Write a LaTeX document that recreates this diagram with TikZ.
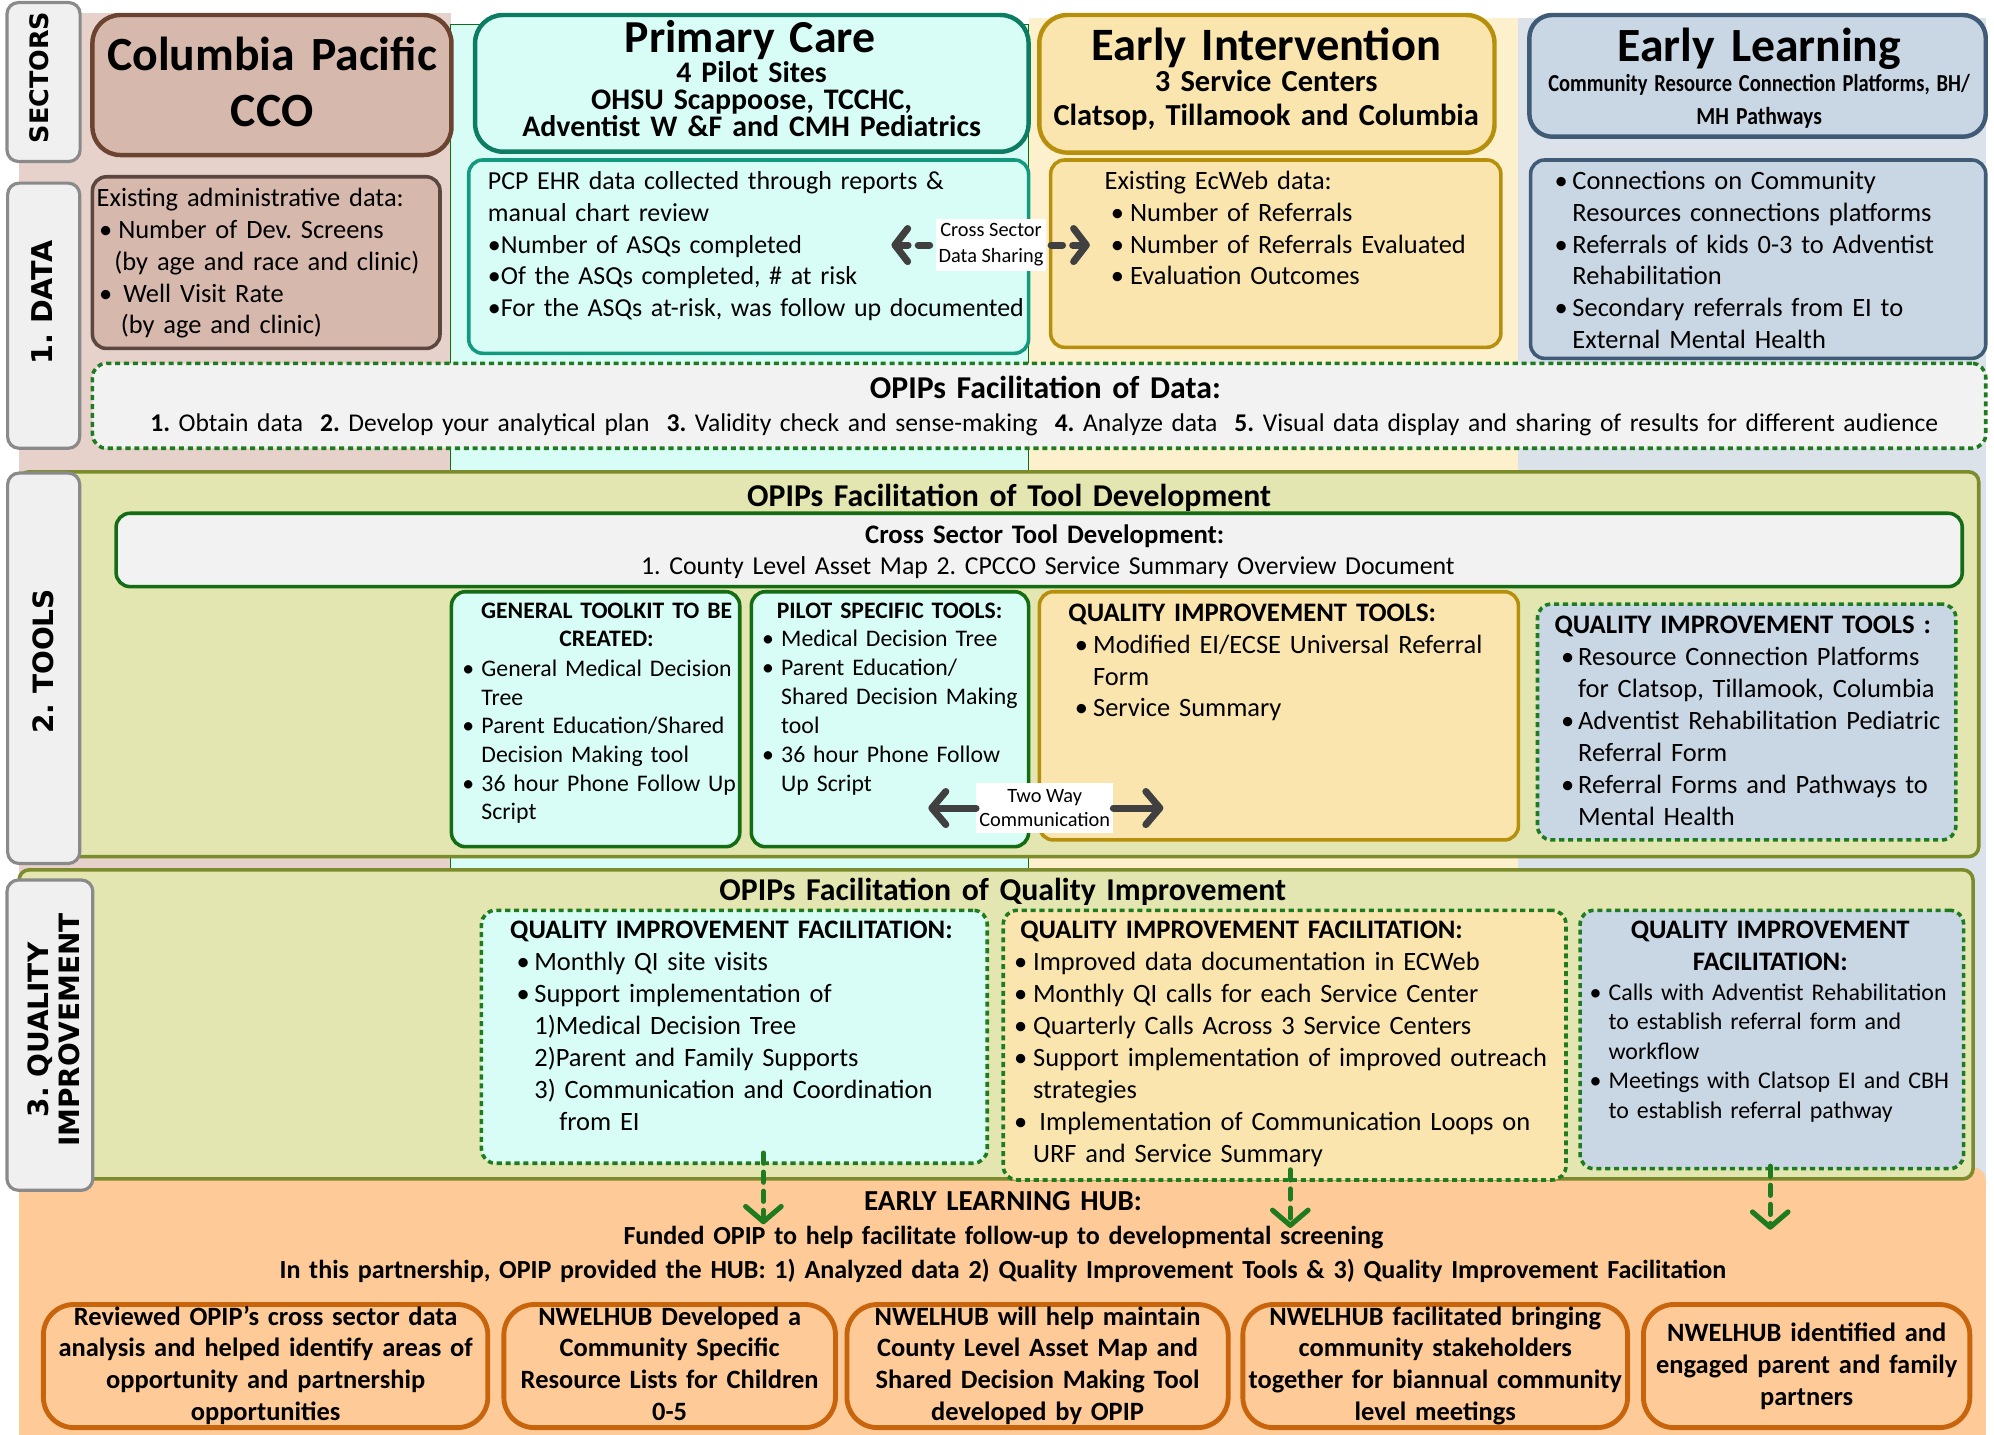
\documentclass[tikz,border=0pt]{standalone}
\usepackage{fontspec}
\usepackage{graphicx}
\setmainfont{Carlito}
\newfontfamily\tabfont{DejaVu Sans}
\usetikzlibrary{arrows.meta}
\definecolor{brownbg}{HTML}{E6D2CB}
\definecolor{brownbox}{HTML}{D7B8AC}
\definecolor{brownline}{HTML}{6B4331}
\definecolor{browndata}{HTML}{5B4640}
\definecolor{cyanbg}{HTML}{D8FDF7}
\definecolor{tealline}{HTML}{0C7C62}
\definecolor{tealdata}{HTML}{139A7E}
\definecolor{yelbg}{HTML}{FDF0CD}
\definecolor{yelbox}{HTML}{FBE5AE}
\definecolor{goldline}{HTML}{B68F0C}
\definecolor{bluebg}{HTML}{DBE2EA}
\definecolor{bluebox}{HTML}{C9D6E3}
\definecolor{blueline}{HTML}{3F5B76}
\definecolor{olivefill}{HTML}{E3E6B0}
\definecolor{oliveline}{HTML}{7C8B2C}
\definecolor{dkgreen}{HTML}{146C14}
\definecolor{dashgreen}{HTML}{1F7B1F}
\definecolor{boxgray}{HTML}{F2F2F2}
\definecolor{hubfill}{HTML}{FDCA98}
\definecolor{hubline}{HTML}{C8640B}
\definecolor{tabfill}{HTML}{F0F0F0}
\definecolor{tabline}{HTML}{8A8A8A}
\definecolor{arrgray}{HTML}{404040}
\newcommand{\myfs}[2]{\fontsize{#1}{#2}\selectfont}
\newcommand{\myb}[1]{\makebox[#1][l]{•}}
\tikzset{
  every node/.style={inner sep=0pt, outer sep=0pt},
  boxn/.style={rectangle, anchor=north west},
  hdrbox/.style={boxn, line width=3.5pt, rounded corners=22pt},
  databox/.style={boxn, line width=2.8pt, rounded corners=11pt},
  dashbox/.style={boxn, draw=dashgreen, line width=2.8pt, dash pattern=on 4pt off 3pt, rounded corners=11pt},
  sectbox/.style={boxn, draw=oliveline, fill=olivefill, line width=2.8pt, rounded corners=8pt},
  hubbox/.style={boxn, draw=hubline, fill=hubfill, line width=3.8pt, rounded corners=24pt},
  tabbox/.style={boxn, draw=tabline, fill=tabfill, line width=2.5pt, rounded corners=9pt},
  lt/.style={anchor=base west, align=left, text width=520pt},
  ct/.style={anchor=base, align=center},
  lbl/.style={fill=white, align=center, font=\myfs{16}{20.4}},
  greyarr/.style={draw=arrgray, line width=5.5pt, line cap=round, -{Straight Barb[length=11pt,width=26pt,round]}},
  sharearr/.style={draw=arrgray, line width=5.5pt, line cap=round, dash pattern=on 9pt off 8pt, -{Straight Barb[length=10pt,width=26pt,round]}},
  greenarr/.style={draw=dashgreen, line width=4pt, line cap=round, dash pattern=on 8pt off 7pt, -{Straight Barb[length=12pt,width=28pt,round]}},
}
\begin{document}
\lineskiplimit=-100pt
\frenchspacing
\begin{tikzpicture}[x=1pt,y=-1pt]
\useasboundingbox (0,0) rectangle (1568,1128);
% column backgrounds
\fill[brownbg] (15,10.5) rectangle (354.6,935);
\filldraw[fill=cyanbg, draw=dkgreen, line width=0.8pt] (354.6,19) rectangle (808.8,935);
\fill[yelbg] (808.8,14.4) rectangle (1194,935);
\fill[bluebg] (1194,14.4) rectangle (1562,935);

% hub background
\node[boxn, fill=hubfill, rounded corners=10pt, minimum width=1546.5pt, minimum height=222pt] (hub) at (15,918) {};

% headers
\node[hdrbox, draw=brownline, fill=brownbox, minimum width=282.3pt, minimum height=110.1pt] (colH) at (72.7,11.8) {};
\node[ct, text width=280pt, font=\bfseries\myfs{37.5}{44}] (colHt) at (214,55.6) {Columbia Pacific\\CCO};

\node[hdrbox, draw=tealline, fill=cyanbg, minimum width=435.2pt, minimum height=107.5pt] (pcH) at (373.6,11.8) {};
\node[ct, text width=430pt, font=\bfseries\myfs{36}{44}] (pcHt) at (590,41) {Primary Care};
\node[ct, text width=430pt, font=\bfseries\myfs{23.5}{21}] (pcHs) at (591,65) {4 Pilot Sites\\OHSU Scappoose, TCCHC,\\Adventist W \&F and CMH Pediatrics};

\node[hdrbox, draw=goldline, fill=yelbox, minimum width=357.9pt, minimum height=108.2pt] (eiH) at (817.3,11.8) {};
\node[ct, text width=350pt, font=\bfseries\myfs{36.5}{44}] (eiHt) at (995.7,47.5) {Early Intervention};
\node[ct, text width=350pt, font=\bfseries\myfs{24}{27}] (eiHs) at (995.7,72) {3 Service Centers\\Clatsop, Tillamook and Columbia};

\node[hdrbox, draw=blueline, fill=bluebox, rounded corners=18pt, minimum width=358.9pt, minimum height=95.7pt] (elH) at (1202.6,11.8) {};
\node[ct, text width=350pt, font=\bfseries\myfs{37.5}{44}] (elHt) at (1383.5,48.6) {Early Learning};
\node[ct, text width=350pt, font=\bfseries\myfs{20}{26}] (elHs) at (1383.3,72) {\resizebox{331.5pt}{13.5pt}{Community Resource Connection Platforms, BH/}\\\resizebox{98.7pt}{13.5pt}{MH Pathways}};

% data row
\node[databox, draw=browndata, fill=brownbox, minimum width=273.3pt, minimum height=135pt] (ccoD) at (72.7,139) {};
\node[lt, font=\myfs{20.8}{25}] (ccoDt) at (76,162.5) {Existing administrative data:\\\hspace*{2pt}\myb{15pt}Number of Dev. Screens\\\hspace*{14pt}(by age and race and clinic)\\\hspace*{2pt}\myb{19pt}Well Visit Rate\\\hspace*{19pt}(by age and clinic)};

\node[databox, draw=tealdata, fill=cyanbg, minimum width=440.2pt, minimum height=152pt] (pcpD) at (368.6,125.8) {};
\node[lt, font=\myfs{20.4}{24.9}] (pcpDt) at (383.7,149.4) {PCP EHR data collected through reports \&\\manual chart review\\•Number of ASQs completed\\•Of the ASQs completed, \# at risk\\•For the ASQs at-risk, was follow up documented};

\node[databox, draw=goldline, fill=yelbox, minimum width=354pt, minimum height=147.3pt] (eiD) at (826.2,125.8) {};
\node[lt, font=\myfs{20.8}{24.9}] (eiDt) at (868.6,149.4) {Existing EcWeb data:\\\hspace*{5pt}\myb{15pt}Number of Referrals\\\hspace*{5pt}\myb{15pt}Number of Referrals Evaluated\\\hspace*{5pt}\myb{15pt}Evaluation Outcomes};

\node[databox, draw=blueline, fill=bluebox, minimum width=357.9pt, minimum height=156pt] (elD) at (1203.6,125.8) {};
\node[lt, font=\myfs{20.8}{24.9}] (elDt) at (1222.5,149.4) {\myb{14pt}Connections on Community\\\hspace*{14pt}Resources connections platforms\\\myb{14pt}Referrals of kids 0-3 to Adventist\\\hspace*{14pt}Rehabilitation\\\myb{14pt}Secondary referrals from EI to\\\hspace*{14pt}External Mental Health};

% cross sector data sharing
\node[lbl, minimum width=86.5pt, minimum height=40.3pt] (csds) at (779.3,192.7) {Cross Sector\\Data Sharing};
\coordinate (csL) at (701,192.7);
\coordinate (csR) at (857,192.7);
\draw[sharearr] ([xshift=-5pt]csds.west) -- (csL);
\draw[sharearr] ([xshift=4pt]csds.east) -- (csR);

\node[dashbox, fill=boxgray, minimum width=1488.8pt, minimum height=66.8pt] (facD) at (72.7,285.7) {};
\node[ct, text width=1480pt, font=\bfseries\myfs{25}{30}] (facDt) at (822,313) {OPIPs Facilitation of Data:};
\node[ct, text width=1480pt, font=\myfs{20.1}{25}] (facDs) at (821.2,339.5) {\textbf{1.} Obtain data\ \ \textbf{2.} Develop your analytical plan\ \ \textbf{3.} Validity check and sense-making\ \ \textbf{4.} Analyze data\ \ \textbf{5.} Visual data display and sharing of results for different audience};

% tools section
\node[sectbox, minimum width=1541pt, minimum height=302.6pt] (toolS) at (15,371) {};
\node[ct, text width=800pt, font=\bfseries\myfs{25}{30}] (toolSt) at (793.5,398.4) {OPIPs Facilitation of Tool Development};
\node[databox, draw=dkgreen, fill=boxgray, minimum width=1451.7pt, minimum height=57.7pt] (crossT) at (91.3,403.6) {};
\node[ct, text width=1400pt, font=\bfseries\myfs{21}{25}] (crossTt) at (821.5,427.3) {Cross Sector Tool Development:};
\node[ct, text width=1400pt, font=\myfs{20.3}{25}] (crossTs) at (824,452.1) {1. County Level Asset Map 2. CPCCO Service Summary Overview Document};

\node[databox, draw=dkgreen, fill=cyanbg, minimum width=226.7pt, minimum height=200.5pt] (genT) at (355,465.3) {};
\node[ct, text width=220pt, font=\bfseries\myfs{18.6}{22.3}] (genTt) at (477,486.2) {GENERAL TOOLKIT TO BE\\CREATED:};
\node[lt, font=\myfs{18.7}{22.5}] (genTb) at (363.6,532.1) {\myb{15pt}General Medical Decision\\\hspace*{15pt}Tree\\\myb{15pt}Parent Education/Shared\\\hspace*{15pt}Decision Making tool\\\myb{15pt}36 hour Phone Follow Up\\\hspace*{15pt}Script};

\node[databox, draw=dkgreen, fill=cyanbg, minimum width=218pt, minimum height=200.5pt] (pilT) at (590.8,465.3) {};
\node[lt, font=\bfseries\myfs{18.6}{22.3}] (pilTt) at (610.8,486.2) {PILOT SPECIFIC TOOLS:};
\node[lt, font=\myfs{18.7}{22.8}] (pilTb) at (599.3,508.5) {\myb{15pt}Medical Decision Tree\\\myb{15pt}Parent Education/\\\hspace*{15pt}Shared Decision Making\\\hspace*{15pt}tool\\\myb{15pt}36 hour Phone Follow\\\hspace*{15pt}Up Script};

\node[databox, draw=goldline, fill=yelbox, minimum width=376.7pt, minimum height=195.2pt] (eiT) at (817.3,465.3) {};
\node[lt, font=\bfseries\myfs{21}{25}] (eiTt) at (840.2,488.8) {QUALITY IMPROVEMENT TOOLS:};
\node[lt, font=\myfs{20.8}{24.95}] (eiTb) at (845.2,513.7) {\myb{14.4pt}Modified EI/ECSE Universal Referral\\\hspace*{14.4pt}Form\\\myb{14.4pt}Service Summary};

\node[dashbox, fill=bluebox, minimum width=329pt, minimum height=185.5pt] (elT) at (1209,475) {};
\node[lt, font=\bfseries\myfs{21}{25}] (elTt) at (1222.5,498) {QUALITY IMPROVEMENT TOOLS :};
\node[lt, font=\myfs{20.8}{25.15}] (elTb) at (1227.5,523) {\myb{13.5pt}Resource Connection Platforms\\\hspace*{13.5pt}for Clatsop, Tillamook, Columbia\\\myb{13.5pt}Adventist Rehabilitation Pediatric\\\hspace*{13.5pt}Referral Form\\\myb{13.5pt}Referral Forms and Pathways to\\\hspace*{13.5pt}Mental Health};

% two way communication
\node[lbl, font=\myfs{16}{19}, minimum width=108pt, minimum height=39.8pt] (twc) at (821.5,635.4) {Two Way\\Communication};
\coordinate (twL) at (730,635.4);
\coordinate (twR) at (914.8,635.4);
\draw[greyarr] (twc.west) -- (twL);
\draw[greyarr] (twc.east) -- (twR);

% QI section
\node[sectbox, minimum width=1536.5pt, minimum height=243pt] (qiS) at (15,684) {};
\node[ct, text width=800pt, font=\bfseries\myfs{25}{30}] (qiSt) at (788.5,708.2) {OPIPs Facilitation of Quality Improvement};

\node[dashbox, fill=cyanbg, minimum width=397.7pt, minimum height=198.9pt] (qiC) at (378.6,715.8) {};
\node[lt, font=\bfseries\myfs{21}{25}] (qiCt) at (401.2,737.8) {QUALITY IMPROVEMENT FACILITATION:};
\node[lt, font=\myfs{20.8}{25.2}] (qiCb) at (406.2,763.3) {\myb{14pt}Monthly QI site visits\\\myb{14pt}Support implementation of\\\hspace*{14pt}1)Medical Decision Tree\\\hspace*{14pt}2)Parent and Family Supports\\\hspace*{14pt}3) Communication and Coordination\\\hspace*{33.6pt}from EI};

\node[dashbox, fill=yelbox, minimum width=442.5pt, minimum height=212.1pt] (qiY) at (788.9,715.8) {};
\node[lt, font=\bfseries\myfs{21}{25}] (qiYt) at (802.3,737.8) {QUALITY IMPROVEMENT FACILITATION:};
\node[lt, font=\myfs{20.8}{25.2}] (qiYb) at (797.4,763.3) {\myb{15pt}Improved data documentation in ECWeb\\\myb{15pt}Monthly QI calls for each Service Center\\\myb{15pt}Quarterly Calls Across 3 Service Centers\\\myb{15pt}Support implementation of improved outreach\\\hspace*{15pt}strategies\\\myb{20pt}Implementation of Communication Loops on\\\hspace*{15pt}URF and Service Summary};

\node[dashbox, fill=bluebox, minimum width=301.6pt, minimum height=203.2pt] (qiB) at (1242.5,715.8) {};
\node[ct, text width=300pt, font=\bfseries\myfs{21}{25.5}] (qiBt) at (1392,737.8) {QUALITY IMPROVEMENT\\FACILITATION:};
\node[lt, font=\myfs{18.8}{23.2}] (qiBb) at (1250,786.5) {\myb{14.9pt}Calls with Adventist Rehabilitation\\\hspace*{14.9pt}to establish referral form and\\\hspace*{14.9pt}workflow\\\myb{14.9pt}Meetings with Clatsop EI and CBH\\\hspace*{14.9pt}to establish referral pathway};

% hub texts
\node[ct, text width=1500pt, font=\bfseries\myfs{22.8}{27}] (hubT) at (788.7,951.5) {EARLY LEARNING HUB:};
\node[ct, text width=1500pt, font=\bfseries\myfs{20.5}{27}] (hubS1) at (789,978.3) {Funded OPIP to help facilitate follow-up to developmental screening};
\node[ct, text width=1500pt, font=\bfseries\myfs{20.5}{27}] (hubS2) at (788.5,1005.2) {In this partnership, OPIP provided the HUB: 1) Analyzed data 2) Quality Improvement Tools \& 3) Quality Improvement Facilitation};

% green arrows
\coordinate (g1) at (600.3,962.7);
\coordinate (g2) at (1014.6,965.6);
\coordinate (g3) at (1392,967);
\draw[greenarr] ([yshift=8pt]qiC.south -| g1) -- (g1);
\draw[greenarr] ([yshift=8pt]qiY.south -| g2) -- (g2);
\draw[greenarr] ([yshift=2pt]qiB.south -| g3) -- (g3);

% hub boxes
\node[hubbox, minimum width=349.5pt, minimum height=96.8pt] (hb1) at (34.1,1025.8) {};
\node[ct, text width=345pt, font=\bfseries\myfs{20.8}{25}] (hb1t) at (208.9,1042) {Reviewed OPIP’s cross sector data\\analysis and helped identify areas of\\opportunity and partnership\\opportunities};
\node[hubbox, minimum width=260.8pt, minimum height=96.8pt] (hb2) at (396.2,1025.8) {};
\node[ct, text width=258pt, font=\bfseries\myfs{20.8}{25}] (hb2t) at (526.6,1042) {NWELHUB Developed a\\Community Specific\\Resource Lists for Children\\0-5};
\node[hubbox, minimum width=299.8pt, minimum height=96.8pt] (hb3) at (666,1025.8) {};
\node[ct, text width=296pt, font=\bfseries\myfs{20.8}{25}] (hb3t) at (815.9,1042) {NWELHUB will help maintain\\County Level Asset Map and\\Shared Decision Making Tool\\developed by OPIP};
\node[hubbox, minimum width=302.6pt, minimum height=96.8pt] (hb4) at (977.3,1025.8) {};
\node[ct, text width=300pt, font=\bfseries\myfs{20.8}{25}] (hb4t) at (1128.6,1042) {NWELHUB facilitated bringing\\community stakeholders\\together for biannual community\\level meetings};
\node[hubbox, minimum width=256.7pt, minimum height=96.8pt] (hb5) at (1292.3,1025.8) {};
\node[ct, text width=254pt, font=\bfseries\myfs{20.8}{25.5}] (hb5t) at (1420.7,1054.6) {NWELHUB identified and\\engaged parent and family\\partners};

% side tabs
\node[tabbox, minimum width=57.5pt, minimum height=125pt] (tabS) at (5.5,2) {};
\node[rotate=90, font=\tabfont\bfseries\myfs{20}{22}] (tabSt) at (31,61) {SECTORS};
\node[tabbox, minimum width=56.7pt, minimum height=208.5pt] (tabD) at (6,144) {};
\node[rotate=90, font=\tabfont\bfseries\myfs{22.5}{26}] (tabDt) at (33,238) {1. DATA};
\node[tabbox, minimum width=56.7pt, minimum height=307pt] (tabT) at (6,372) {};
\node[rotate=90, font=\tabfont\bfseries\myfs{22}{26}] (tabTt) at (34,520) {2. TOOLS};
\node[tabbox, minimum width=67.5pt, minimum height=244pt] (tabQ) at (5.5,692) {};
\node[rotate=90, align=center, font=\tabfont\bfseries\myfs{22}{24.5}] (tabQt) at (42,810) {3. QUALITY\\IMPROVEMENT};
\end{tikzpicture}
\end{document}
